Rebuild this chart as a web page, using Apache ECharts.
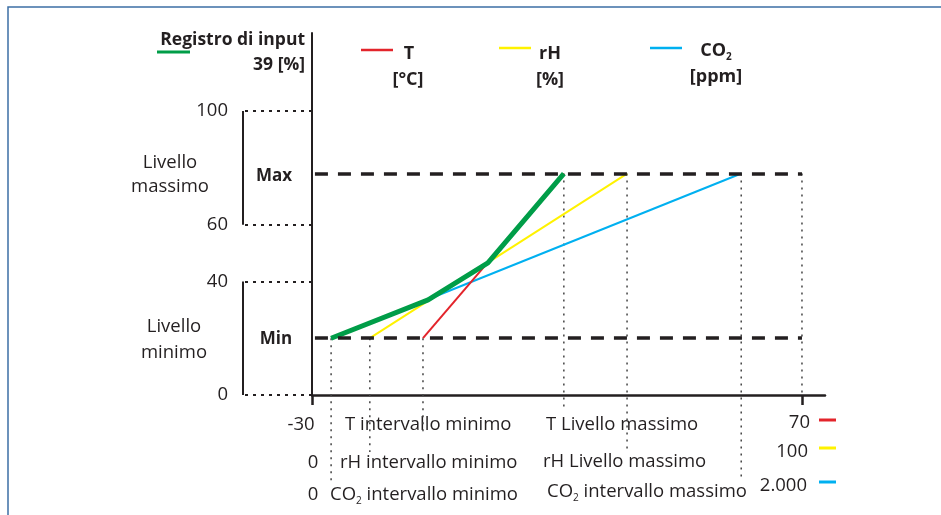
<!DOCTYPE html>
<html lang="it">
<head>
<meta charset="utf-8">
<script src="https://cdn.jsdelivr.net/npm/echarts@6/dist/echarts.min.js"></script>
<title>registro_input</title>
<style>
    html, body, #main {
        width: 100%;
        height: 100%;
        margin: 0;
        background: #fff;
    }
</style>
</head>
<body>
<div id="main"></div>
<script>
    // tacche asse y e asse x
    var yTicks = [0, 40, 60, 100];
    var xTicks = [-30, 70];
    var levelMax = 78;
    var levelMin = 20;
    // rette [x, y]
    var tLine = [[-7.35, 20], [21.4, 78]];
    var rhLine = [[-18.2, 20], [34.3, 78]];
    var co2Line = [[-26.1, 20], [57.6, 78]];
    var inputLine = [[-26.1, 20], [-6.3, 33.5], [5.9, 46.5], [21.4, 78]];
    // linee verticali punteggiate
    var dropX = [-26.1, -18.2, -7.35, 21.4, 34.3, 57.6, 70];
    var dropY = [20, 20, 20, 78, 78, 78, 78];
    var dropEnd = [481, 452, 432, 408, 450, 480, 395];

    var ink = '#231f20';
    var font = '"Open Sans", sans-serif';
    var red = '#e3242b', yellow = '#fff200', blue = '#00b0f0', green = '#009d48';

    var chart = echarts.init(document.getElementById('main'));

    function txt(text, x, y, size, align, bold) {
        return {
            type: 'text', silent: true,
            style: {
                text: text, x: x, y: y, fill: ink,
                font: (bold ? 'bold ' : '') + size + 'px ' + font,
                textAlign: align, textVerticalAlign: 'middle'
            }
        };
    }
    function co2(text, x, y, size, align, bold) {
        var w = bold ? 'bold' : 'normal';
        return {
            type: 'text', silent: true,
            style: {
                text: text, x: x, y: y, fill: ink,
                textAlign: align, textVerticalAlign: 'middle',
                rich: {
                    n: {fontSize: size, fontWeight: w, fontFamily: font, lineHeight: 22, fill: ink},
                    s: {fontSize: 10, fontWeight: w, fontFamily: font, lineHeight: 6, verticalAlign: 'bottom', fill: ink}
                }
            }
        };
    }
    function seg(x1, y1, x2, y2, color, width) {
        return {
            type: 'line', silent: true,
            shape: {x1: x1, y1: y1, x2: x2, y2: y2},
            style: {stroke: color, lineWidth: width}
        };
    }

    var option = {
        animation: false,
        grid: {left: 312, right: 116, top: 33, bottom: 120, outerBoundsMode: 'none'},
        xAxis: {
            type: 'value', min: -30, max: 74.7,
            splitLine: {show: false},
            axisLine: {show: true, onZero: false, lineStyle: {color: ink, width: 2.5}},
            axisTick: {show: true, customValues: xTicks, length: 10, lineStyle: {color: ink, width: 2.5}},
            axisLabel: {show: false}
        },
        yAxis: {
            type: 'value', min: 0, max: 127.5,
            splitLine: {show: false},
            axisLine: {show: true, onZero: false, lineStyle: {color: ink, width: 2}},
            axisTick: {show: true, customValues: yTicks, length: 72, lineStyle: {color: ink, width: 2, type: [3, 5]}},
            axisLabel: {customValues: yTicks, margin: 84, fontSize: 18.5, color: ink, fontFamily: font}
        },
        series: [
            {
                type: 'custom', clip: false, silent: true, z: 1,
                data: dropX.map(function (x, i) { return [x, dropY[i], i]; }),
                renderItem: function (params, api) {
                    var p = api.coord([api.value(0), api.value(1)]);
                    return {
                        type: 'line',
                        shape: {x1: p[0], y1: p[1], x2: p[0], y2: dropEnd[api.value(2)]},
                        style: {stroke: '#444', lineWidth: 1.5, lineDash: [2, 5]}
                    };
                }
            },
            {
                // parentesi dei livelli
                type: 'custom', clip: false, silent: true, z: 1,
                data: [[60, 100], [0, 40]],
                renderItem: function (params, api) {
                    var a = api.coord([-30, api.value(0)]);
                    var b = api.coord([-30, api.value(1)]);
                    return {
                        type: 'line',
                        shape: {x1: a[0] - 69, y1: a[1], x2: b[0] - 69, y2: b[1]},
                        style: {stroke: ink, lineWidth: 2}
                    };
                }
            },
            {type: 'line', data: co2Line, symbol: 'none', lineStyle: {color: blue, width: 2}, z: 3},
            {type: 'line', data: rhLine, symbol: 'none', lineStyle: {color: yellow, width: 2}, z: 3},
            {type: 'line', data: tLine, symbol: 'none', lineStyle: {color: red, width: 2}, z: 3},
            {
                type: 'line', data: inputLine, symbol: 'none', z: 4,
                lineStyle: {color: green, width: 5},
                markLine: {
                    silent: true, symbol: 'none', label: {show: false},
                    lineStyle: {color: ink, width: 3.5, type: [13, 10]},
                    data: [
                        [{coord: [-29.4, levelMax]}, {coord: [70, levelMax]}],
                        [{coord: [-29.4, levelMin]}, {coord: [70, levelMin]}]
                    ]
                }
            }
        ],
        graphic: [
            {type: 'rect', silent: true, shape: {x: 8, y: 7, width: 1000, height: 600},
                style: {fill: 'none', stroke: '#3d6fa5', lineWidth: 1.5}},
            txt('Registro di input', 305, 40, 17.5, 'right', true),
            txt('39 [%]', 305, 65, 17.5, 'right', true),
            seg(157, 52, 190, 52, green, 3),
            seg(361, 50, 393, 50, red, 2.5),
            txt('T', 409, 54, 18, 'center', true),
            txt('[°C]', 408, 80, 18, 'center', true),
            seg(499, 48, 531, 48, yellow, 2.5),
            txt('rH', 550, 54, 18, 'center', true),
            txt('[%]', 550, 80, 18, 'center', true),
            seg(650, 48, 682, 48, blue, 2.5),
            co2('{n|CO}{s|2}', 716, 51, 18, 'center', true),
            txt('[ppm]', 716, 77, 18, 'center', true),
            txt('Livello', 170, 163, 18.5, 'center'),
            txt('massimo', 170, 187, 18.5, 'center'),
            txt('Livello', 174, 327, 18.5, 'center'),
            txt('minimo', 174, 353, 18.5, 'center'),
            txt('Max', 274, 176, 17, 'center', true),
            txt('Min', 276, 339, 17, 'center', true),
            txt('-30', 301, 425, 18.5, 'center'),
            txt('T intervallo minimo', 345, 425, 18.5, 'left'),
            txt('T Livello massimo', 546, 425, 18.5, 'left'),
            txt('0', 313, 463, 18.5, 'center'),
            txt('rH intervallo minimo', 340, 463, 18.5, 'left'),
            txt('rH Livello massimo', 543, 462, 18.5, 'left'),
            txt('0', 313, 495, 18.5, 'center'),
            co2('{n|CO}{s|2}{n| intervallo minimo}', 330, 495, 18.5, 'left'),
            co2('{n|CO}{s|2}{n| intervallo massimo}', 547, 492, 18.5, 'left'),
            txt('70', 810, 423, 18.5, 'right'),
            seg(819, 420, 836, 420, red, 3),
            txt('100', 808, 452, 18.5, 'right'),
            seg(819, 448, 836, 448, yellow, 3),
            txt('2.000', 807, 486, 18.5, 'right'),
            seg(819, 482, 836, 482, blue, 3)
        ]
    };
    chart.setOption(option);
    window.onresize = chart.resize;
</script>
</body>
</html>
